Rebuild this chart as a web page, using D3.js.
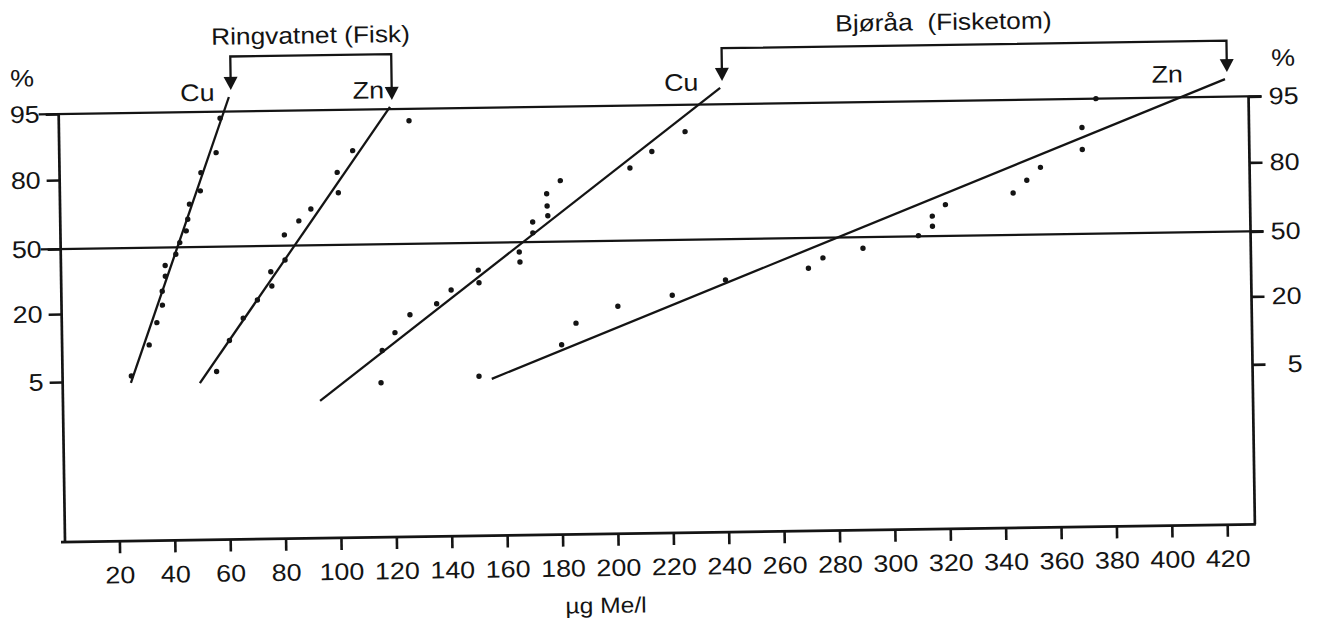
<!DOCTYPE html>
<html>
<head>
<meta charset="utf-8">
<script src="https://cdn.jsdelivr.net/npm/d3@7"></script>
<style>
  body { margin: 0; background: #ffffff; }
  svg { display: block; font-family: "Liberation Sans", Arial, Helvetica, sans-serif; }
</style>
</head>
<body>
<svg id="chart" width="1319" height="626"></svg>
<script>
// ---------------- DATA ----------------
const xTicks = [20, 40, 60, 80, 100, 120, 140, 160, 180, 200, 220, 240, 260, 280, 300, 320, 340, 360, 380, 400, 420];
const yTicks = [5, 20, 50, 80, 95];
const gridLevels = [50, 95];
const xLabel = "µg Me/l";

// Ringvatnet (Fisk) – Cu : concentration (µg/l) and cumulative %
const ringCuX = [25.2, 31.8, 34.7, 36.8, 36.8, 38.0, 38.0, 41.9, 43.4, 45.8, 46.4, 47.1, 51.1, 51.4, 57.0, 58.6];
const ringCuP = [6.1, 12.9, 17.8, 23.4, 29.8, 36.7, 41.7, 46.8, 52.0, 57.1, 62.1, 68.7, 74.4, 81.2, 85.7, 93.5];
const ringCuFitX = [25.0, 61.9];
const ringCuFitP = [4.6, 98.3];

// Ringvatnet (Fisk) – Zn
const ringZnX = [56.0, 60.8, 65.9, 71.1, 76.4, 76.1, 81.3, 81.2, 86.5, 90.9, 100.9, 100.6, 106.3, 126.8];
const ringZnP = [6.8, 13.6, 18.5, 25.1, 31.5, 38.1, 43.4, 54.7, 60.7, 65.8, 72.7, 80.8, 85.7, 92.3];
const ringZnFitX = [49.9, 120.0];
const ringZnFitP = [4.3, 95.5];

// Bjøråa (Fisketom) – Cu
const bjoCuX = [115.3, 115.9, 120.6, 126.1, 135.8, 141.1, 151.2, 151.0, 166.1, 165.9, 170.9, 170.9, 176.4, 176.2, 176.1, 181.1, 206.3, 214.3, 226.4];
const bjoCuP = [3.8, 10.9, 14.8, 18.7, 22.2, 28.4, 31.6, 37.4, 40.9, 45.5, 54.0, 58.7, 61.3, 65.6, 70.9, 76.5, 80.8, 84.5, 88.9];
const bjoCuFitX = [93.2, 239.3];
const bjoCuFitP = [0, 98.7];

// Bjøråa (Fisketom) – Zn
const bjoZnX = [150.7, 180.7, 186.0, 201.2, 220.9, 240.2, 270.2, 275.5, 290.0, 310.1, 315.2, 315.2, 320.0, 344.5, 349.5, 354.5, 369.7, 369.7, 374.9];
const bjoZnP = [4.9, 11.6, 16.3, 19.9, 24.5, 31.2, 36.0, 40.7, 44.9, 50.3, 54.3, 58.7, 63.6, 68.2, 73.7, 79.2, 83.5, 88.5, 95.0];
const bjoZnFitX = [155.3, 421.6];
const bjoZnFitP = [4.3, 99.0];

const sites = ["Ringvatnet (Fisk)", "Bjøråa  (Fisketom)"];
const metals = ["Cu", "Zn"];

// ---------------- BUILD ----------------
const series = [
  { site: 0, metal: "Cu", xs: ringCuX, ps: ringCuP, fx: ringCuFitX, fp: ringCuFitP },
  { site: 0, metal: "Zn", xs: ringZnX, ps: ringZnP, fx: ringZnFitX, fp: ringZnFitP },
  { site: 1, metal: "Cu", xs: bjoCuX, ps: bjoCuP, fx: bjoCuFitX, fp: bjoCuFitP },
  { site: 1, metal: "Zn", xs: bjoZnX, ps: bjoZnP, fx: bjoZnFitX, fp: bjoZnFitP }
];

const ink = "#141414";
const K = 1.12; // horizontal stretch of the scanned lettering
function stretch(sel) {
  sel.each(function () {
    const t = d3.select(this);
    const xv = +(t.attr("x") || 0);
    t.attr("x", xv / K).attr("transform", `scale(${K},1)`);
  });
}

const svg = d3.select("#chart");
// the scanned original is slightly tilted
const g = svg.append("g").attr("transform", "rotate(-0.85,65,541)");

const x = d3.scaleLinear().domain([0, 430]).range([64, 1255]);
const y = d3.scaleLinear().domain(yTicks).range([382, 314, 249, 180, 114]);
const bottom = 542, leftX = 65, rightX = 1255;

// frame
g.append("line").attr("x1", leftX).attr("x2", leftX).attr("y1", y(95)).attr("y2", bottom)
  .attr("stroke", ink).attr("stroke-width", 2.7);
g.append("line").attr("x1", rightX).attr("x2", rightX).attr("y1", y(95)).attr("y2", bottom)
  .attr("stroke", ink).attr("stroke-width", 2.7);
g.append("line").attr("x1", leftX - 4).attr("x2", rightX + 1).attr("y1", bottom).attr("y2", bottom)
  .attr("stroke", ink).attr("stroke-width", 2.7);

// horizontal reference lines (50 % and 95 %)
g.selectAll("line.grid").data(gridLevels).join("line").attr("class", "grid")
  .attr("x1", leftX - 20).attr("x2", rightX + 13)
  .attr("y1", d => y(d)).attr("y2", d => y(d))
  .attr("stroke", ink).attr("stroke-width", 2.3);

function styleAxis(sel) {
  sel.select(".domain").remove();
  sel.selectAll("line").attr("stroke", ink).attr("stroke-width", 2.6);
  sel.selectAll("text").attr("fill", ink).style("font-size", "24px");
}

const axL = g.append("g").attr("transform", `translate(${leftX},0)`)
  .call(d3.axisLeft(y).tickValues(yTicks).tickSize(13).tickPadding(6).tickFormat(d3.format("d")));
styleAxis(axL);
stretch(axL.selectAll("text"));

const axR = g.append("g").attr("transform", `translate(${rightX},0)`)
  .call(d3.axisRight(y).tickValues(yTicks).tickSize(13).tickPadding(6).tickFormat(d3.format("d")));
styleAxis(axR);
axR.selectAll("text").attr("text-anchor", "end").attr("x", 50);
stretch(axR.selectAll("text"));

const axB = g.append("g").attr("transform", `translate(0,${bottom})`)
  .call(d3.axisBottom(x).tickValues(xTicks).tickSize(12).tickPadding(13).tickFormat(d3.format("d")));
styleAxis(axB);
stretch(axB.selectAll("text"));

// "%" labels
stretch(g.append("text").attr("x", 29).attr("y", 86).attr("text-anchor", "middle")
  .style("font-size", "24px").attr("fill", ink).text("%"));
stretch(g.append("text").attr("x", 1290).attr("y", 84).attr("text-anchor", "middle")
  .style("font-size", "24px").attr("fill", ink).text("%"));

// x-axis title
stretch(g.append("text").attr("x", 605).attr("y", 621).attr("text-anchor", "middle")
  .style("font-size", "22px").attr("fill", ink).text(xLabel));

// fitted lines
const line = d3.line().x(d => x(d[0])).y(d => y(d[1]));
g.selectAll("path.fit").data(series).join("path").attr("class", "fit")
  .attr("d", s => line(d3.zip(s.fx, s.fp)))
  .attr("fill", "none").attr("stroke", ink).attr("stroke-width", 2.3);

// points
series.forEach(s => {
  g.selectAll(null).data(d3.zip(s.xs, s.ps)).join("circle")
    .attr("cx", d => x(d[0])).attr("cy", d => y(d[1])).attr("r", 2.7).attr("fill", ink);
});

// arrows + brackets for each site
const bracketY = [59, 58];
const titlePos = [[318, 47], [951, 43]];
const metalLabelPos = { "0Cu": [204, 103], "0Zn": [375, 103], "1Cu": [688, 100], "1Zn": [1174, 99] };

sites.forEach((name, si) => {
  const ss = series.filter(s => s.site === si);
  const tips = ss.map(s => [x(s.fx[1]) + 2, y(s.fp[1]) - 7]);
  const by = bracketY[si];
  g.append("path")
    .attr("d", `M${tips[0][0]},${tips[0][1] - 11} V${by} H${tips[1][0]} V${tips[1][1] - 11}`)
    .attr("fill", "none").attr("stroke", ink).attr("stroke-width", 2.3);
  tips.forEach(t => {
    g.append("path")
      .attr("d", `M${t[0]},${t[1]} L${t[0] - 7},${t[1] - 13} L${t[0] + 7},${t[1] - 13} Z`)
      .attr("fill", ink);
  });
  stretch(g.append("text").attr("x", titlePos[si][0]).attr("y", titlePos[si][1]).attr("text-anchor", "middle")
    .style("font-size", "23.5px").attr("fill", ink)
    .style("white-space", "pre").text(name));
  ss.forEach(s => {
    const p = metalLabelPos[si + s.metal];
    stretch(g.append("text").attr("x", p[0]).attr("y", p[1]).attr("text-anchor", "middle")
      .style("font-size", "24px").attr("fill", ink).text(s.metal));
  });
});
</script>
</body>
</html>
